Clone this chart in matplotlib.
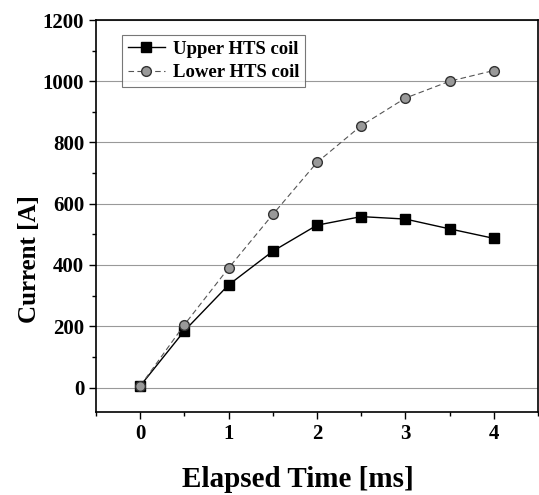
import numpy as np
import matplotlib
matplotlib.use("Agg")
import matplotlib.pyplot as plt
from matplotlib.ticker import MultipleLocator

plt.rcParams['font.family'] = ['Liberation Serif', 'DejaVu Serif']
plt.rcParams['font.weight'] = 'bold'

time_ms = [0, 0.5, 1, 1.5, 2, 2.5, 3, 3.5, 4]
upper_coil = [5, 185, 335, 445, 530, 558, 550, 518, 487]
lower_coil = [5, 205, 390, 565, 735, 855, 945, 1000, 1035]

fig = plt.figure(figsize=(5.39, 4.95), dpi=100)
ax = fig.add_axes([96/539, 1 - 412/495, (538 - 96)/539, (412 - 20)/495])

ax.grid(axis='y', color='#999999', linewidth=0.8)
ax.set_axisbelow(True)

ax.plot(time_ms, upper_coil, color='black', linewidth=1.0, marker='s', markersize=7,
        markerfacecolor='black', markeredgecolor='black', label='Upper HTS coil')
ax.plot(time_ms, lower_coil, color='#555555', linewidth=0.8, linestyle=(0, (5, 3)),
        marker='o', markersize=7, markerfacecolor='#999999', markeredgecolor='#333333',
        label='Lower HTS coil')

ax.set_xlim(-0.5, 4.5)
ax.set_ylim(-80, 1200)
ax.xaxis.set_major_locator(MultipleLocator(1))
ax.xaxis.set_minor_locator(MultipleLocator(0.5))
ax.yaxis.set_major_locator(MultipleLocator(200))
ax.yaxis.set_minor_locator(MultipleLocator(100))
ax.tick_params(which='major', direction='out', length=5, width=1, labelsize=15)
ax.tick_params(which='minor', direction='out', length=3, width=1)
for lbl in ax.get_xticklabels() + ax.get_yticklabels():
    lbl.set_fontweight('bold')
for s in ax.spines.values():
    s.set_linewidth(1.2)

ax.set_xlabel('Elapsed Time [ms]', fontsize=21, fontweight='bold')
ax.set_ylabel('Current [A]', fontsize=18, fontweight='bold')
ax.xaxis.set_label_coords((298 - 96) / 442, -(466 - 412) / 392)
ax.yaxis.set_label_coords(-(96 - 41) / 442, (412 - 259) / 392)

leg = ax.legend(loc='upper left', bbox_to_anchor=(0.059, 0.962), fontsize=13.5,
                frameon=True, fancybox=False, edgecolor='#555555',
                handlelength=2.0, handletextpad=0.4, borderpad=0.3,
                labelspacing=0.35, borderaxespad=0)
leg.get_frame().set_linewidth(0.8)
for t in leg.get_texts():
    t.set_fontweight('bold')

fig.savefig('out.png', dpi=100)
